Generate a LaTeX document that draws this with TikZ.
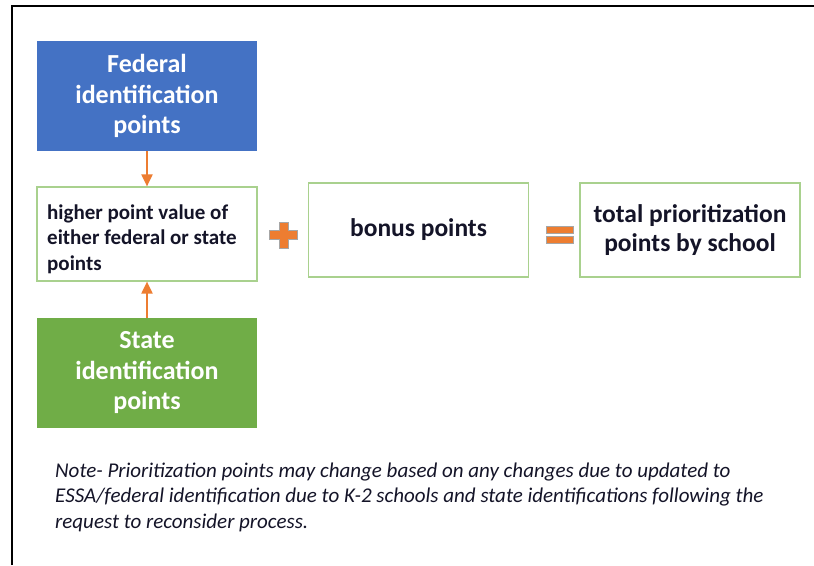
\documentclass[tikz,border=0pt]{standalone}
\usepackage{fontspec}
\setmainfont{Carlito}
\usetikzlibrary{arrows.meta}
\definecolor{fedblue}{HTML}{4472C4}
\definecolor{stgreen}{HTML}{70AD47}
\definecolor{lgreen}{HTML}{A9D18E}
\definecolor{orng}{HTML}{ED7D31}
\definecolor{txt}{HTML}{141428}
\tikzset{
  colbox/.style={minimum width=220pt, minimum height=110pt, inner sep=0pt, align=center, text=white,
    font=\fontsize{26}{30.5}\selectfont\bfseries},
  whitebox/.style={draw=lgreen, line width=1.2pt, fill=white, minimum width=220pt, minimum height=94pt,
    inner sep=0pt, text=txt},
  arr/.style={draw=orng, line width=2pt, -{Triangle[length=12pt,width=11pt]}},
  opsign/.style={fill=orng, draw=gray!70, line width=0.8pt},
}
\begin{document}
\begin{tikzpicture}[x=1pt,y=-1pt]
\useasboundingbox (0,0) rectangle (814,565);
\fill[white] (0,0) rectangle (814,565);
\draw[line width=2.5pt] (12,565) -- (12,6) -- (814,6);

\node[colbox, fill=fedblue] (fed) at (147,96) {Federal\\identification\\points};
\node[whitebox] (high) at (147,234) {};
\node[anchor=base west, align=left, inner sep=0pt, text=txt,
  font=\fontsize{21}{25.5}\selectfont\bfseries] (hightext) at (47,270)
  {higher point value of\\either federal or state\\points};
\node[colbox, fill=stgreen] (st) at (147,373) {State\\identification\\points};

\node[whitebox, font=\fontsize{25.5}{30}\selectfont\bfseries] (bonus) at (418.5,230) {bonus points};
\node[whitebox, align=center, font=\fontsize{25.5}{29.5}\selectfont\bfseries] (total) at (690,230)
  {total prioritization\\points by school};

\draw[arr] (fed.south) -- (high.north);
\draw[arr] (st.north) -- (high.south);

% plus sign
\draw[opsign] (279,222) -- (288,222) -- (288,230.5) -- (297,230.5) -- (297,239.5) -- (288,239.5)
  -- (288,248) -- (279,248) -- (279,239.5) -- (269,239.5) -- (269,230.5) -- (279,230.5) -- cycle;
% equals sign
\draw[opsign] (546,226) rectangle (573,233);
\draw[opsign] (546,236) rectangle (573,243);

\node[anchor=base west, align=left, text=txt, inner sep=0pt,
  font=\fontsize{21}{25.5}\selectfont\itshape] (note) at (55,528)
  {Note- Prioritization points may change based on any changes due to updated to\\
   ESSA/federal identification due to K-2 schools and state identifications following the\\
   request to reconsider process.};
\end{tikzpicture}
\end{document}
